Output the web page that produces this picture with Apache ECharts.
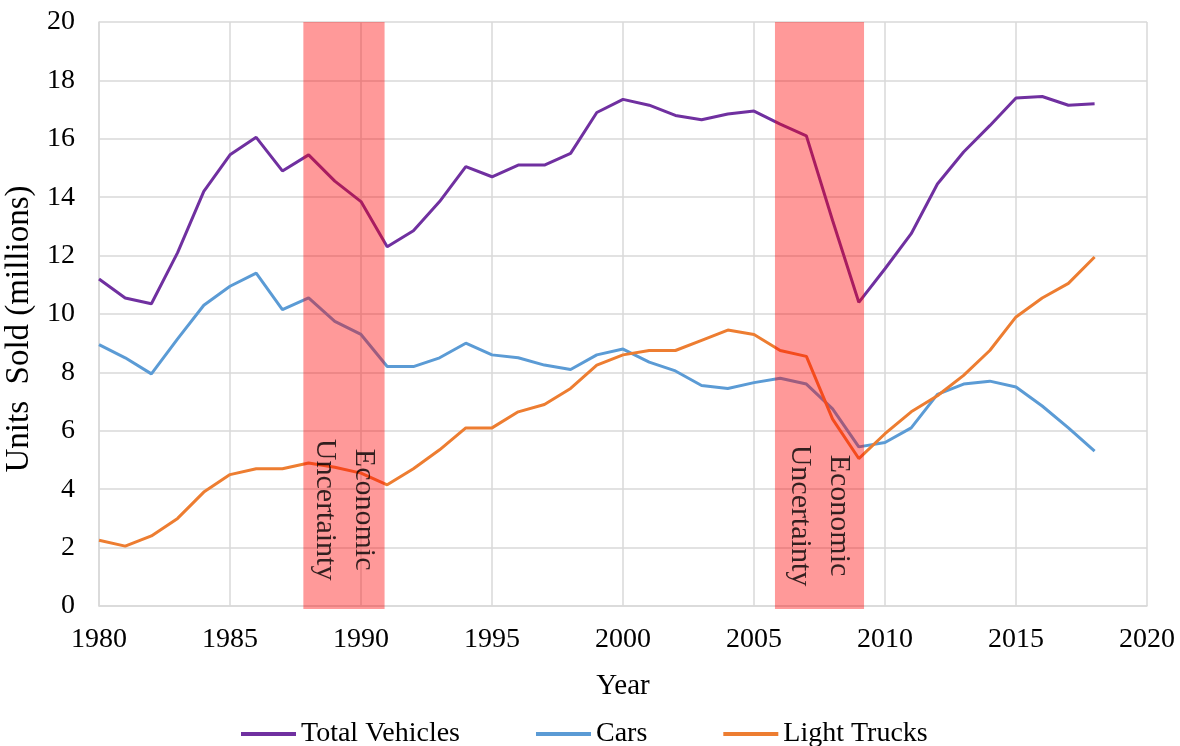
<!DOCTYPE html>
<html>
<head>
<meta charset="utf-8">
<script src="https://cdn.jsdelivr.net/npm/echarts@6/dist/echarts.min.js"></script>
<style>
    html, body { margin: 0; padding: 0; background: #fff; }
    #chart { width: 1180px; height: 746px; }
</style>
</head>
<body>
<div id="chart"></div>
<script>
// 年份及三条曲线（单位：百万辆）
var years = [1980,1981,1982,1983,1984,1985,1986,1987,1988,1989,1990,1991,1992,1993,1994,1995,1996,1997,1998,1999,
             2000,2001,2002,2003,2004,2005,2006,2007,2008,2009,2010,2011,2012,2013,2014,2015,2016,2017,2018];
var totalVehicles = [11.2,10.55,10.35,12.1,14.2,15.45,16.05,14.9,15.45,14.55,13.85,12.3,12.85,13.85,15.05,14.7,15.1,15.1,15.5,16.9,
                     17.35,17.15,16.8,16.65,16.85,16.95,16.5,16.1,13.2,10.4,11.55,12.75,14.45,15.55,16.45,17.4,17.45,17.15,17.2];
var cars = [8.95,8.5,7.95,9.15,10.3,10.95,11.4,10.15,10.55,9.75,9.3,8.2,8.2,8.5,9.0,8.6,8.5,8.25,8.1,8.6,
            8.8,8.35,8.05,7.55,7.45,7.65,7.8,7.6,6.75,5.45,5.6,6.1,7.25,7.6,7.7,7.5,6.85,6.1,5.3];
var lightTrucks = [2.25,2.05,2.4,3.0,3.9,4.5,4.7,4.7,4.9,4.75,4.55,4.15,4.7,5.35,6.1,6.1,6.65,6.9,7.45,8.25,
                   8.6,8.75,8.75,9.1,9.45,9.3,8.75,8.55,6.4,5.05,5.9,6.65,7.2,7.9,8.75,9.9,10.55,11.05,11.95];

// 经济不确定时期（阴影区）
var bandStart = [1987.8, 2005.8];
var bandEnd = [1990.9, 2009.2];
var bandLabelX = [1989.35, 2007.5];
var bandLabelY = [3.3, 3.1];
var bandText = "Economic\nUncertainty";

var seriesNames = ["Total Vehicles", "Cars", "Light Trucks"];
var seriesColors = ["#7030A0", "#5B9BD5", "#ED7D31"];
var seriesValues = [totalVehicles, cars, lightTrucks];

var font = "Liberation Serif";

function pairs (vals) {
    return years.map(function (y, i) { return [y, vals[i]]; });
}

var series = seriesNames.map(function (name, i) {
    return {
        name: name,
        type: "line",
        data: pairs(seriesValues[i]),
        symbol: "none",
        z: 2,
        lineStyle: { color: seriesColors[i], width: 3 },
        itemStyle: { color: seriesColors[i] }
    };
});

// 阴影区画在曲线之上（半透明）
series.push({
    type: "custom",
    z: 5,
    silent: true,
    data: bandStart.map(function (s, i) { return [s, bandEnd[i]]; }),
    renderItem: function (params, api) {
        var p0 = api.coord([api.value(0), 20]);
        var p1 = api.coord([api.value(1), 0]);
        return {
            type: "rect",
            shape: { x: p0[0], y: p0[1], width: p1[0] - p0[0], height: p1[1] - p0[1] + 3 },
            style: { fill: "rgba(255,0,0,0.4)" }
        };
    }
});

series.push({
    type: "scatter",
    z: 6,
    silent: true,
    symbolSize: 0,
    data: bandLabelX.map(function (x, i) { return [x, bandLabelY[i]]; }),
    label: {
        show: true,
        position: "inside",
        formatter: bandText,
        rotate: -90,
        align: "center",
        verticalAlign: "middle",
        color: "#000",
        fontFamily: font,
        fontSize: 30,
        lineHeight: 39
    }
});

var myChart = echarts.init(document.getElementById("chart"));
myChart.setOption({
    animation: false,
    backgroundColor: "#fff",
    grid: { left: 99, right: 33, top: 22, bottom: 140, containLabel: false, outerBoundsMode: "none" },
    xAxis: {
        type: "value",
        min: 1980,
        max: 2020,
        interval: 5,
        name: "Year",
        nameLocation: "middle",
        nameGap: 66,
        nameTextStyle: { fontFamily: font, fontSize: 29, color: "#000" },
        axisLine: { lineStyle: { color: "#d9d9d9", width: 1.5 } },
        axisTick: { show: false },
        axisLabel: {
            fontFamily: font, fontSize: 28, color: "#000", margin: 20,
            formatter: function (v) { return String(v); }
        },
        splitLine: { show: true, lineStyle: { color: "#d9d9d9", width: 1.5 } }
    },
    yAxis: {
        type: "value",
        min: 0,
        max: 20,
        interval: 2,
        name: "Units  Sold (millions)",
        nameLocation: "middle",
        nameGap: 54,
        nameTextStyle: { fontFamily: font, fontSize: 33, color: "#000", padding: [0, 30, 0, 0] },
        axisLine: { show: true, lineStyle: { color: "#d9d9d9", width: 1.5 } },
        axisTick: { show: false },
        axisLabel: { fontFamily: font, fontSize: 28, color: "#000", margin: 24 },
        splitLine: { show: true, lineStyle: { color: "#d9d9d9", width: 1.5 } }
    },
    legend: {
        data: seriesNames,
        left: 236,
        top: 715,
        icon: "rect",
        itemWidth: 55,
        itemHeight: 4,
        itemGap: 76,
        textStyle: { fontFamily: font, fontSize: 28, color: "#000" }
    },
    series: series
});
</script>
</body>
</html>
